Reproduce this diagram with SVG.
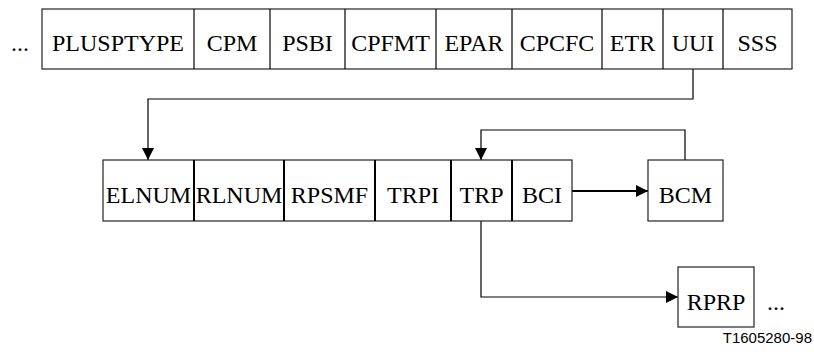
<svg xmlns="http://www.w3.org/2000/svg" width="814" height="356" viewBox="0 0 814 356">
<defs>
<style>
.b{fill:#fff;stroke:#222;stroke-width:1.2}
.d{stroke:#000;stroke-width:1.2}
.d2{stroke:#000;stroke-width:2}
.t{font-family:'Liberation Serif','Times New Roman',Times,serif;font-size:24px;fill:#000;text-anchor:middle}
.c{fill:none;stroke:#000;stroke-width:1.2}
</style>
<marker id="ah" viewBox="0 0 12 12" refX="12" refY="6" markerWidth="12" markerHeight="12" markerUnits="userSpaceOnUse" orient="auto">
<path d="M0,0 L12,6 L0,12 Z" fill="#000"/>
</marker>
</defs>
<rect width="814" height="356" fill="#fff"/>
<g id="connectors">
<polyline class="c" points="693,69 693,99 148,99 148,160" marker-end="url(#ah)"/>
<polyline class="c" points="685,160 685,130 481,130 481,160" marker-end="url(#ah)"/>
<line x1="572" y1="191" x2="648" y2="191" stroke="#000" stroke-width="2.2" marker-end="url(#ah)"/>
<polyline class="c" points="481,221 481,297 678,297" marker-end="url(#ah)"/>
</g>
<g id="top-row" font-family="'Liberation Serif', serif">
<text class="t" x="20" y="51">...</text>
<rect class="b" x="42" y="9" width="750" height="60"/>
<g class="d"><line x1="194" y1="9" x2="194" y2="69"/><line x1="270" y1="9" x2="270" y2="69"/><line x1="345" y1="9" x2="345" y2="69"/><line x1="436" y1="9" x2="436" y2="69"/><line x1="512" y1="9" x2="512" y2="69"/><line x1="602" y1="9" x2="602" y2="69"/><line x1="663" y1="9" x2="663" y2="69"/><line x1="723" y1="9" x2="723" y2="69"/></g>
<text class="t" x="118" y="51">PLUSPTYPE</text>
<text class="t" x="232" y="51">CPM</text>
<text class="t" x="307.5" y="51">PSBI</text>
<text class="t" x="390.5" y="51">CPFMT</text>
<text class="t" x="474" y="51">EPAR</text>
<text class="t" x="557" y="51">CPCFC</text>
<text class="t" x="632.5" y="51">ETR</text>
<text class="t" x="693" y="51">UUI</text>
<text class="t" x="757.5" y="51">SSS</text>
</g>
<g id="mid-row" font-family="'Liberation Serif', serif">
<rect class="b" x="103" y="160" width="469" height="61"/>
<g class="d2"><line x1="194" y1="160" x2="194" y2="221"/><line x1="284" y1="160" x2="284" y2="221"/><line x1="375" y1="160" x2="375" y2="221"/><line x1="451" y1="160" x2="451" y2="221"/><line x1="512" y1="160" x2="512" y2="221"/></g>
<text class="t" x="148.5" y="203">ELNUM</text>
<text class="t" x="239" y="203">RLNUM</text>
<text class="t" x="329.5" y="203">RPSMF</text>
<text class="t" x="413" y="203">TRPI</text>
<text class="t" x="481.5" y="203">TRP</text>
<text class="t" x="542" y="203">BCI</text>
</g>
<g id="BCM" font-family="'Liberation Serif', serif">
<rect class="b" x="648" y="160" width="75" height="61"/>
<text class="t" x="685.5" y="203">BCM</text>
</g>
<g id="RPRP" font-family="'Liberation Serif', serif">
<rect class="b" x="678" y="267" width="76" height="60"/>
<text class="t" x="716" y="310">RPRP</text>
<text class="t" x="776" y="310">...</text>
</g>
<text x="812" y="343" font-family="'Liberation Sans',Arial,sans-serif" font-size="15" text-anchor="end" fill="#000">T1605280-98</text>
</svg>
